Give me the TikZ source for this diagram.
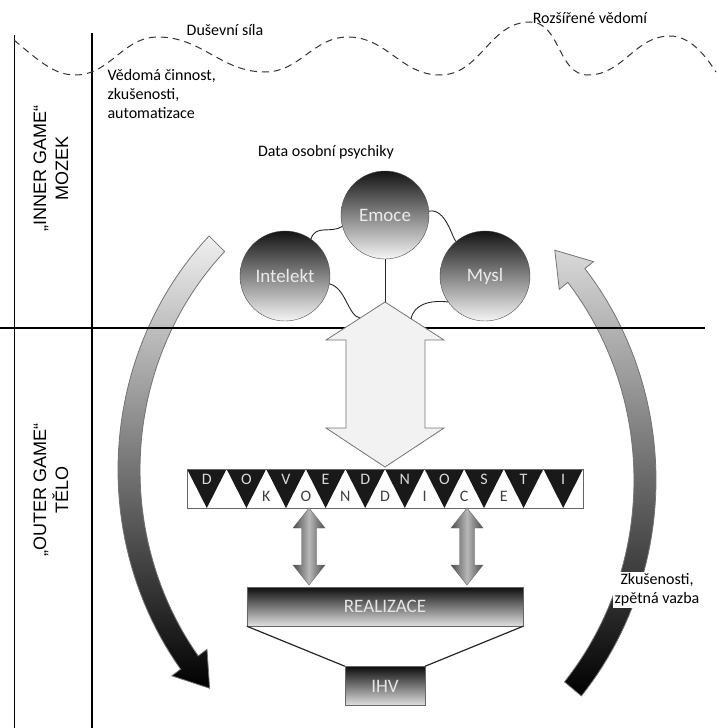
\documentclass[tikz,border=0pt]{standalone}
\usepackage{fontspec}
\setmainfont{Carlito}
\newfontfamily\sidefont{Liberation Sans}
\usetikzlibrary{positioning}

\begin{document}
\begin{tikzpicture}[x=1pt,y=-1pt,
            ball/.style={circle,draw=black!70,minimum size=88,inner sep=0,
                         top color=black!92,bottom color=black!4,text=white!92!black,
                         font=\fontsize{19}{22}\selectfont},
            bar/.style={rectangle,draw=black!60,minimum height=39,inner sep=0,
                        top color=black!95,bottom color=black!12,text=white!90!black,
                        font=\fontsize{19}{22}\selectfont},
            note/.style={align=left,font=\fontsize{16}{19}\selectfont},
            side/.style={rotate=90,align=center,font=\sidefont\fontsize{18}{22}\selectfont},
            wire/.style={black!85,line width=0.9pt},
            wave/.style={black!80,line width=1pt,dash pattern=on 7pt off 5pt},
            frame/.style={line width=2.5pt},
            letter/.style={inner sep=0,font=\fontsize{16}{16}\selectfont}]

      \useasboundingbox (0,0) rectangle (716,728);

      \path[draw=black!55,line width=0.8pt,top color=black!6,bottom color=black]
            plot[domain=225:143,samples=50] ({429+311*cos(\x)},{470+331*sin(\x)})
            -- ({429+322*cos(143)},{470+342*sin(143)})
            -- ({429+300*cos(137)},{470+320*sin(137)})
            -- ({429+278*cos(143)},{470+298*sin(143)})
            -- plot[domain=143:225,samples=50] ({429+289*cos(\x)},{470+309*sin(\x)})
            -- cycle;
      \path[draw=black!55,line width=0.8pt,top color=black!15,bottom color=black]
            plot[domain=40:-39,samples=50] ({337+319*cos(\x)},{480+336*sin(\x)})
            -- ({337+330*cos(-39)},{480+347*sin(-39)})
            -- ({337+308*cos(-45)},{480+325*sin(-45)})
            -- ({337+286*cos(-39)},{480+303*sin(-39)})
            -- plot[domain=-39:40,samples=50] ({337+297*cos(\x)},{480+314*sin(\x)})
            -- cycle;

      \draw[line width=1pt] (14,35) -- (14,728);
      \draw[frame] (92,33) -- (92,728);
      \draw[frame] (0,328) -- (705,328);

      \draw[wave] (14,40) .. controls (40,62) and (55,75) .. (75,75)
            to[out=0,in=180] (158,37) to[out=0,in=180] (265,72)
            to[out=0,in=180] (348,37) to[out=0,in=180] (440,75)
            to[out=0,in=180] (530,22) to[out=0,in=180] (588,75)
            to[out=0,in=180] (670,36) .. controls (690,36) and (705,55) .. (716,72);

      \node[note] (sila) at (225,30) {Duševní síla};
      \node[note] (vedomi) at (590,18) {Rozšířené vědomí};
      \node[note,anchor=north west] (cinnost) at (104,66)
            {Vědomá činnost,\\zkušenosti,\\automatizace};
      \node[note] (data) at (326,152) {Data osobní psychiky};
      \node[side] (inner) at (51,168) {„INNER GAME“\\MOZEK};
      \node[side] (outer) at (51,490) {„OUTER GAME“\\TĚLO};
      \node[note,align=center,fill=white,inner sep=2pt] (zpetna) at (657,590)
            {Zkušenosti,\\zpětná vazba};

      \draw[draw=black!55,fill=black!5,line width=0.8pt]
            (385,302) -- (444,340) -- (425,340) -- (425,428) -- (444,428) -- (385,467)
            -- (326,428) -- (346,428) -- (346,340) -- (326,340) -- cycle;
      \coordinate (tip) at (385,302);
      \coordinate (al) at (360,318);
      \coordinate (ar) at (411,319);

      \node[ball] (emoce) at (385,215) {Emoce};
      \node[ball,minimum size=90] (intelekt) at (285,276) {Intelekt};
      \node[ball,minimum size=90] (mysl) at (485,276) {Mysl};

      \draw[wire] (emoce.south) -- (tip);
      \draw[wire] (intelekt.55) .. controls (316,224) and (330,234) .. (emoce.195);
      \draw[wire] (intelekt.-10) .. controls (346,288) and (348,316) .. (al);
      \draw[wire] (emoce.5) .. controls (446,208) and (452,238) .. (mysl.130);
      \draw[wire] (mysl.215) .. controls (430,300) and (414,304) .. (ar);

      \node[draw=black!60,fill=white,minimum width=396,minimum height=39,inner sep=0]
            (strip) at (385,488.5) {};
      \foreach \i in {0,...,9}
            \fill[black!90] ({187+\i*39.6},469) -- ({187+(\i+1)*39.6},469)
                  -- ({187+(\i+0.5)*39.6},508) -- cycle;
      \draw[black!60] (strip.north west) rectangle (strip.south east);
      \foreach \l [count=\i from 0] in {D,O,V,E,D,N,O,S,T,I}
            \node[letter,text=white!85!black] (t_\i) at ({187+(\i+0.5)*39.6},479) {\l};
      \foreach \l [count=\i from 2] in {K,O,N,D,I,C,E}
            \node[letter,text=black!75] (b_\i) at ({187+\i*39.6},496) {\l};

      \foreach \x in {309,467}
            \draw[draw=black!60,left color=black!70,right color=black!70,middle color=black!28]
                  (\x,508) -- ++(16,20) -- ++(-8.5,0) -- ++(0,37) -- ++(8.5,0) -- (\x,585)
                  -- ++(-16,-20) -- ++(8.5,0) -- ++(0,-37) -- ++(-8.5,0) -- cycle;

      \node[bar,minimum width=276] (real) at (385,606.5) {REALIZACE};
      \node[bar,minimum width=80,below=40pt of real] (ihv) {IHV};
      \draw[black!85,line width=1.2pt] (real.south west) -- (ihv.north west);
      \draw[black!85,line width=1.2pt] (real.south east) -- (ihv.north east);

\end{tikzpicture}
\end{document}
